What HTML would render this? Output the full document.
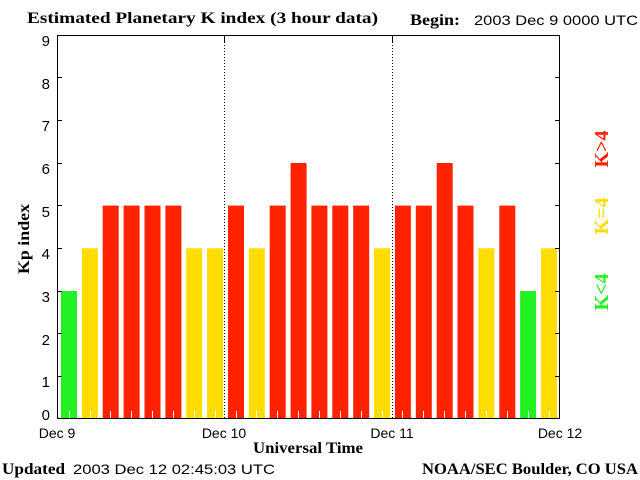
<!DOCTYPE html><html><head><style>body{margin:0;background:#fff}svg{display:block}</style></head><body>
<svg width="640" height="480" xmlns="http://www.w3.org/2000/svg">
<rect width="640" height="480" fill="#fff"/>
<g>
<rect x="61" y="291" width="16" height="128" fill="#22f022"/>
<rect x="81.9" y="248.3" width="16" height="170.7" fill="#ffdd00"/>
<rect x="102.7" y="205.6" width="16" height="213.4" fill="#ff2200"/>
<rect x="123.6" y="205.6" width="16" height="213.4" fill="#ff2200"/>
<rect x="144.5" y="205.6" width="16" height="213.4" fill="#ff2200"/>
<rect x="165.4" y="205.6" width="16" height="213.4" fill="#ff2200"/>
<rect x="186.2" y="248.3" width="16" height="170.7" fill="#ffdd00"/>
<rect x="207.1" y="248.3" width="16" height="170.7" fill="#ffdd00"/>
<rect x="228" y="205.6" width="16" height="213.4" fill="#ff2200"/>
<rect x="248.8" y="248.3" width="16" height="170.7" fill="#ffdd00"/>
<rect x="269.7" y="205.6" width="16" height="213.4" fill="#ff2200"/>
<rect x="290.6" y="163" width="16" height="256" fill="#ff2200"/>
<rect x="311.4" y="205.6" width="16" height="213.4" fill="#ff2200"/>
<rect x="332.3" y="205.6" width="16" height="213.4" fill="#ff2200"/>
<rect x="353.2" y="205.6" width="16" height="213.4" fill="#ff2200"/>
<rect x="374.1" y="248.3" width="16" height="170.7" fill="#ffdd00"/>
<rect x="394.9" y="205.6" width="16" height="213.4" fill="#ff2200"/>
<rect x="415.8" y="205.6" width="16" height="213.4" fill="#ff2200"/>
<rect x="436.7" y="163" width="16" height="256" fill="#ff2200"/>
<rect x="457.5" y="205.6" width="16" height="213.4" fill="#ff2200"/>
<rect x="478.4" y="248.3" width="16" height="170.7" fill="#ffdd00"/>
<rect x="499.3" y="205.6" width="16" height="213.4" fill="#ff2200"/>
<rect x="520.1" y="291" width="16" height="128" fill="#22f022"/>
<rect x="541" y="248.3" width="16" height="170.7" fill="#ffdd00"/>
</g>
<path stroke="#fff" stroke-width="1" d="M69.5 411v8M90.5 411v8M110.5 411v8M131.5 411v8M152.5 411v8M173.5 411v8M194.5 411v8M215.5 411v8M236.5 411v8M256.5 411v8M277.5 411v8M298.5 411v8M319.5 411v8M340.5 411v8M361.5 411v8M382.5 411v8M402.5 411v8M423.5 411v8M444.5 411v8M465.5 411v8M486.5 411v8M507.5 411v8M528.5 411v8M549.5 411v8"/>
<g stroke="#000" stroke-width="1" fill="none">
<rect x="57.5" y="35.5" width="502" height="383"/>
<line x1="224.5" y1="36" x2="224.5" y2="418" stroke-dasharray="1,2"/>
<line x1="392.5" y1="36" x2="392.5" y2="418" stroke-dasharray="1,2"/>
<path d="M57 77.5h5M57 120.5h5M57 163.5h5M57 205.5h5M57 248.5h5M57 291.5h5M57 333.5h5M57 376.5h5M560 77.5h-5M560 120.5h-5M560 163.5h-5M560 205.5h-5M560 248.5h-5M560 291.5h-5M560 333.5h-5M560 376.5h-5M224.5 36v6M392.5 36v6"/>
</g>
<g font-family="Liberation Sans, sans-serif" font-size="15" fill="#000" text-anchor="end">
<text x="50" y="46">9</text><text x="50" y="89">8</text><text x="50" y="131">7</text><text x="50" y="174">6</text><text x="50" y="217">5</text><text x="50" y="259">4</text><text x="50" y="302">3</text><text x="50" y="345">2</text><text x="50" y="387">1</text><text x="50" y="420">0</text>
</g>
<g font-family="Liberation Sans, sans-serif" font-size="14" fill="#000">
<text x="57" y="438" text-anchor="middle">Dec 9</text><text x="224" y="438" text-anchor="middle">Dec 10</text><text x="392" y="438" text-anchor="middle">Dec 11</text><text x="560" y="438" text-anchor="middle">Dec 12</text>
<text x="474" y="25" textLength="164" lengthAdjust="spacingAndGlyphs">2003 Dec 9 0000 UTC</text>
<text x="73" y="474" textLength="202" lengthAdjust="spacingAndGlyphs">2003 Dec 12 02:45:03 UTC</text>
</g>
<g font-family="Liberation Serif, serif" font-weight="bold" font-size="16" fill="#000">
<text x="27" y="23" textLength="351" lengthAdjust="spacingAndGlyphs">Estimated Planetary K index (3 hour data)</text>
<text x="410" y="25" textLength="50" lengthAdjust="spacingAndGlyphs">Begin:</text>
<text x="253" y="453" textLength="110" lengthAdjust="spacingAndGlyphs">Universal Time</text>
<text x="2" y="474" textLength="63" lengthAdjust="spacingAndGlyphs">Updated</text>
<text x="422" y="474" textLength="216" lengthAdjust="spacingAndGlyphs">NOAA/SEC Boulder, CO USA</text>
<text transform="translate(29,239) rotate(-90)" text-anchor="middle" textLength="70" lengthAdjust="spacingAndGlyphs">Kp index</text>
</g>
<g font-family="Liberation Serif, serif" font-weight="bold" font-size="20" text-anchor="middle">
<text transform="translate(608,149) rotate(-90)" fill="#ff2200">K&gt;4</text>
<text transform="translate(608,216) rotate(-90)" fill="#ffdd00">K=4</text>
<text transform="translate(608,292) rotate(-90)" fill="#22f022">K&lt;4</text>
</g>
</svg>
</body></html>
